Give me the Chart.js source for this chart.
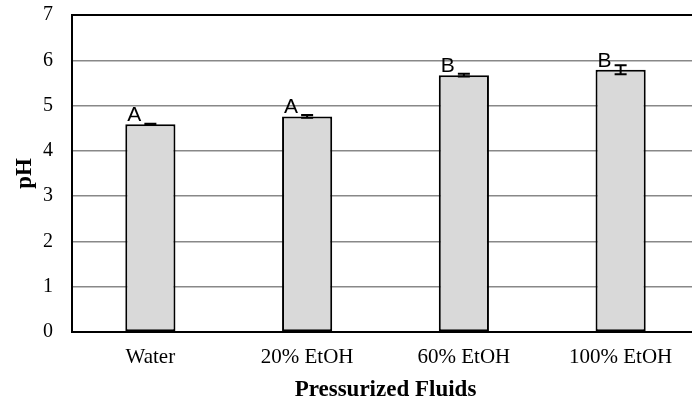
<!DOCTYPE html>
<html>
<head>
<meta charset="utf-8">
<script src="https://cdn.jsdelivr.net/npm/chart.js@4.4.0/dist/chart.umd.min.js"></script>
<style>
    html, body { margin: 0; padding: 0; background: #fff; overflow: hidden; }
    #wrap { width: 702px; height: 404px; }
</style>
</head>
<body>
<div id="wrap"><canvas id="phChart" width="702" height="404"></canvas></div>
<script>
const categories = ['Water', '20% EtOH', '60% EtOH', '100% EtOH'];
const phMeans = [4.59, 4.76, 5.67, 5.79];
const phErrors = [0.01, 0.03, 0.03, 0.10];
const groupLetters = ['A', 'A', 'B', 'B'];
const yTicks = [0, 1, 2, 3, 4, 5, 6, 7];

// error bars + significance letters drawn on top of the bars
const errorBarPlugin = {
    id: 'errorBars',
    afterDatasetsDraw(chart) {
        const ctx = chart.ctx;
        const yScale = chart.scales.y;
        const meta = chart.getDatasetMeta(0);
        ctx.save();
        meta.data.forEach((bar, i) => {
            const yHi = yScale.getPixelForValue(phMeans[i] + phErrors[i]);
            const yLo = yScale.getPixelForValue(phMeans[i] - phErrors[i]);
            const cap = 6;
            ctx.strokeStyle = '#000';
            ctx.lineWidth = 2;
            ctx.beginPath();
            ctx.moveTo(bar.x, yHi);
            ctx.lineTo(bar.x, yLo);
            ctx.moveTo(bar.x - cap, yHi);
            ctx.lineTo(bar.x + cap, yHi);
            ctx.moveTo(bar.x - cap, yLo);
            ctx.lineTo(bar.x + cap, yLo);
            ctx.stroke();

            ctx.fillStyle = '#000';
            ctx.font = '21px "Liberation Sans", Arial, sans-serif';
            ctx.textAlign = 'left';
            ctx.textBaseline = 'alphabetic';
            ctx.fillText(groupLetters[i], bar.x - bar.width / 2 + 2, bar.y - 3);
        });
        ctx.restore();
    }
};

const ctx = document.getElementById('phChart').getContext('2d');
new Chart(ctx, {
    type: 'bar',
    data: {
        labels: categories,
        datasets: [{
            label: 'pH',
            data: phMeans,
            backgroundColor: '#d9d9d9',
            borderColor: '#000',
            borderWidth: 2,
            borderSkipped: false,
            barPercentage: 0.32,
            categoryPercentage: 1
        }]
    },
    options: {
        responsive: false,
        animation: false,
        layout: { padding: { top: 15, right: 3, left: 0, bottom: 0 } },
        plugins: {
            legend: { display: false },
            tooltip: { enabled: false }
        },
        scales: {
            x: {
                grid: { display: false, drawTicks: false },
                border: { color: '#000', width: 2 },
                ticks: {
                    color: '#000',
                    padding: 13,
                    font: { family: '"Liberation Serif", "Times New Roman", serif', size: 21 }
                },
                title: {
                    display: true,
                    text: 'Pressurized Fluids',
                    color: '#000',
                    padding: { top: 0, bottom: 0 },
                    font: { family: '"Liberation Serif", "Times New Roman", serif', size: 23, weight: 'bold' }
                },
                afterFit: function(scale) {
                    scale.height = 72;
                    scale.paddingLeft = 0;
                    scale.paddingRight = 0;
                }
            },
            y: {
                min: 0,
                max: 7,
                afterBuildTicks: function(scale) {
                    scale.ticks = yTicks.map(v => ({ value: v }));
                },
                grid: {
                    drawTicks: false,
                    color: c => c.tick && c.tick.value === 7 ? '#000' : '#888',
                    lineWidth: c => c.tick && c.tick.value === 7 ? 2 : 1.5
                },
                border: { color: '#000', width: 2 },
                ticks: {
                    color: '#000',
                    padding: 19,
                    font: { family: '"Liberation Serif", "Times New Roman", serif', size: 20 }
                },
                title: {
                    display: true,
                    text: 'pH',
                    color: '#000',
                    padding: { top: 11, bottom: 0 },
                    font: { family: '"Liberation Serif", "Times New Roman", serif', size: 23, weight: 'bold' }
                },
                afterFit: function(scale) {
                    scale.width = 72;
                    scale.paddingTop = 0;
                    scale.paddingBottom = 0;
                }
            }
        }
    },
    plugins: [errorBarPlugin]
});
</script>
</body>
</html>
